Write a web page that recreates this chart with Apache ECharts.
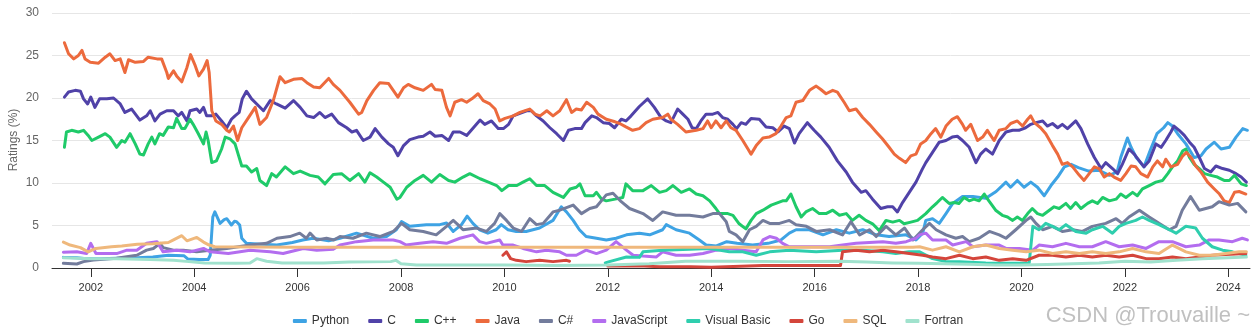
<!DOCTYPE html>
<html>
<head>
<meta charset="utf-8">
<script src="https://cdn.jsdelivr.net/npm/echarts@6/dist/echarts.min.js"></script>
<style>html,body{margin:0;padding:0;background:#fff;}#c{width:1256px;height:336px;}</style>
</head>
<body>
<div id="c"></div>
<script>
const yearTicks = [2002,2004,2006,2008,2010,2012,2014,2016,2018,2020,2022,2024];
const seriesNames = ['Python','C','C++','Java','C#','JavaScript','Visual Basic','Go','SQL','Fortran'];
const seriesColors = ['#3ea3e4','#5042a8','#1fca69','#ec6a3d','#737c9c','#b36def','#2fceae','#d4453b','#efb87c','#a0e2cd'];

const python = [[2001.47,1.25],[2001.73,1.2],[2001.92,1.1],[2002.2,1.1],[2002.5,1.15],[2002.9,1.2],[2003.2,1.3],[2003.5,1.5],[2003.8,1.45],[2003.88,1.05],[2004.1,1.0],[2004.27,1.0],[2004.31,1.5],[2004.36,6.0],[2004.40,6.6],[2004.50,5.25],[2004.58,5.7],[2004.63,5.8],[2004.72,5.06],[2004.78,5.5],[2004.82,5.45],[2004.88,5.06],[2004.92,3.5],[2005.01,2.9],[2005.3,2.8],[2005.6,2.7],[2005.9,3.0],[2006.1,3.3],[2006.3,3.5],[2006.6,3.2],[2006.82,3.5],[2007.14,4.1],[2007.46,3.5],[2007.72,3.7],[2007.91,4.5],[2008.01,5.45],[2008.17,4.9],[2008.49,5.1],[2008.75,5.1],[2008.88,5.3],[2009.01,4.3],[2009.17,5.1],[2009.28,6.1],[2009.39,5.25],[2009.52,4.5],[2009.68,4.1],[2009.84,4.5],[2009.94,5.1],[2010.07,4.5],[2010.23,4.3],[2010.42,4.3],[2010.68,4.7],[2010.94,5.6],[2011.10,7.2],[2011.20,6.6],[2011.33,5.6],[2011.45,4.5],[2011.58,3.7],[2011.78,3.5],[2011.97,3.3],[2012.16,3.5],[2012.36,3.9],[2012.61,4.1],[2012.81,3.9],[2013.06,4.5],[2013.13,5.1],[2013.32,4.5],[2013.58,4.1],[2013.77,3.3],[2013.90,2.7],[2014.1,2.6],[2014.3,3.1],[2014.5,2.9],[2014.8,2.7],[2015.1,2.9],[2015.35,3.3],[2015.51,4.1],[2015.64,4.5],[2015.9,4.5],[2016.16,3.9],[2016.42,4.5],[2016.67,4.1],[2016.93,4.5],[2017.19,3.9],[2017.44,3.7],[2017.77,3.9],[2017.96,3.3],[2018.09,4.1],[2018.15,5.6],[2018.28,5.8],[2018.41,5.25],[2018.54,6.4],[2018.67,7.6],[2018.86,8.4],[2019.06,8.4],[2019.31,8.2],[2019.51,9.0],[2019.70,10.1],[2019.79,9.5],[2019.92,10.3],[2020.05,9.5],[2020.18,10.1],[2020.31,9.5],[2020.44,8.5],[2020.57,9.7],[2020.70,10.7],[2020.83,11.9],[2020.96,12.2],[2021.1,11.8],[2021.3,11.4],[2021.5,11.5],[2021.7,10.9],[2021.85,11.3],[2021.92,13.0],[2022.05,15.3],[2022.12,14.2],[2022.22,13.0],[2022.37,11.9],[2022.5,14.0],[2022.62,15.8],[2022.75,16.5],[2022.83,17.1],[2022.92,16.7],[2023.02,15.8],[2023.18,14.6],[2023.34,13.0],[2023.47,13.2],[2023.57,14.0],[2023.73,14.8],[2023.86,14.0],[2024.02,14.2],[2024.15,15.4],[2024.28,16.4],[2024.37,16.2]];

const cLang = [[2001.49,20.1],[2001.57,20.7],[2001.70,20.9],[2001.80,20.8],[2001.86,19.9],[2001.94,19.3],[2002.00,20.1],[2002.08,18.9],[2002.17,19.9],[2002.31,19.9],[2002.44,20.0],[2002.57,19.3],[2002.66,18.3],[2002.79,18.7],[2002.95,17.4],[2003.08,17.9],[2003.15,18.5],[2003.24,17.3],[2003.34,18.1],[2003.47,18.5],[2003.60,18.5],[2003.69,17.9],[2003.76,18.3],[2003.86,17.3],[2003.92,18.5],[2004.05,18.7],[2004.11,18.3],[2004.18,18.9],[2004.24,17.9],[2004.34,17.9],[2004.42,18.1],[2004.53,17.3],[2004.63,16.5],[2004.72,17.5],[2004.79,17.9],[2004.87,18.3],[2004.93,19.9],[2005.01,20.8],[2005.11,19.9],[2005.21,19.3],[2005.34,18.5],[2005.47,19.7],[2005.59,19.3],[2005.76,18.8],[2005.92,19.7],[2006.05,18.9],[2006.18,17.9],[2006.31,17.7],[2006.43,18.3],[2006.53,17.7],[2006.66,18.1],[2006.79,17.1],[2006.95,16.5],[2007.05,16.0],[2007.14,16.2],[2007.27,15.0],[2007.40,15.4],[2007.50,16.4],[2007.63,15.4],[2007.76,14.6],[2007.85,14.2],[2007.94,13.2],[2008.05,14.4],[2008.17,15.1],[2008.33,15.4],[2008.43,15.5],[2008.56,16.0],[2008.66,15.5],[2008.79,15.6],[2008.92,15.0],[2009.01,16.0],[2009.14,16.0],[2009.27,15.6],[2009.40,16.5],[2009.53,17.4],[2009.62,16.9],[2009.75,17.3],[2009.88,16.4],[2009.98,16.4],[2010.08,16.9],[2010.17,17.9],[2010.30,18.2],[2010.43,18.5],[2010.52,18.5],[2010.62,17.9],[2010.75,17.3],[2010.88,16.5],[2011.01,15.8],[2011.14,15.0],[2011.24,16.2],[2011.36,16.4],[2011.49,16.4],[2011.56,17.1],[2011.69,17.9],[2011.78,17.7],[2011.91,17.1],[2012.03,17.0],[2012.13,16.5],[2012.26,17.5],[2012.35,17.3],[2012.45,17.9],[2012.61,19.0],[2012.77,19.9],[2012.90,18.9],[2013.03,17.7],[2013.13,17.3],[2013.22,17.1],[2013.35,18.7],[2013.45,18.1],[2013.55,17.5],[2013.63,16.5],[2013.71,16.4],[2013.80,17.3],[2013.90,18.1],[2014.03,18.1],[2014.13,18.3],[2014.22,17.7],[2014.32,17.5],[2014.42,16.9],[2014.49,16.4],[2014.58,17.1],[2014.67,16.9],[2014.77,17.6],[2014.93,17.5],[2015.06,16.6],[2015.19,16.5],[2015.29,16.0],[2015.41,16.7],[2015.51,16.4],[2015.61,14.7],[2015.70,15.8],[2015.86,17.1],[2015.99,16.2],[2016.12,15.4],[2016.28,14.2],[2016.44,12.6],[2016.61,11.3],[2016.73,10.1],[2016.90,8.9],[2016.99,9.1],[2017.12,8.1],[2017.28,7.0],[2017.41,7.2],[2017.51,7.2],[2017.60,6.6],[2017.70,7.7],[2017.83,8.9],[2017.96,10.1],[2018.08,11.6],[2018.15,12.4],[2018.28,13.6],[2018.41,14.8],[2018.54,15.0],[2018.66,15.4],[2018.76,15.5],[2018.86,15.0],[2018.99,14.2],[2019.12,12.4],[2019.21,13.4],[2019.31,14.0],[2019.44,13.4],[2019.57,15.0],[2019.70,16.0],[2019.83,16.2],[2019.95,16.2],[2020.08,16.5],[2020.18,16.9],[2020.28,17.1],[2020.41,17.3],[2020.50,16.7],[2020.60,17.0],[2020.70,16.5],[2020.79,16.9],[2020.89,16.4],[2021.05,17.3],[2021.15,16.4],[2021.28,14.6],[2021.41,13.0],[2021.54,11.7],[2021.63,12.4],[2021.76,11.7],[2021.86,11.1],[2021.95,12.2],[2022.08,14.0],[2022.18,13.4],[2022.28,12.6],[2022.37,11.9],[2022.47,12.6],[2022.60,14.6],[2022.70,14.2],[2022.79,15.0],[2022.89,16.0],[2022.95,16.7],[2023.05,16.2],[2023.15,15.6],[2023.25,14.8],[2023.34,14.2],[2023.44,13.0],[2023.54,11.7],[2023.66,11.3],[2023.76,12.0],[2023.89,11.7],[2024.02,11.5],[2024.15,11.1],[2024.25,10.7],[2024.35,10.1]];

const cpp = [[2001.49,14.2],[2001.53,16.0],[2001.63,16.2],[2001.76,16.0],[2001.86,16.2],[2001.95,15.6],[2002.02,15.0],[2002.15,15.4],[2002.28,15.8],[2002.37,15.4],[2002.50,14.2],[2002.60,15.0],[2002.66,14.8],[2002.76,15.8],[2002.86,14.6],[2002.95,13.4],[2003.02,13.3],[2003.11,14.6],[2003.18,15.4],[2003.24,14.6],[2003.33,15.8],[2003.40,15.6],[2003.50,16.6],[2003.60,16.5],[2003.66,17.6],[2003.76,16.4],[2003.82,16.4],[2003.92,17.5],[2003.98,16.9],[2004.08,15.8],[2004.18,14.6],[2004.23,16.0],[2004.27,15.0],[2004.34,12.4],[2004.43,12.6],[2004.53,14.0],[2004.60,15.4],[2004.69,15.2],[2004.79,14.6],[2004.85,13.4],[2004.92,12.0],[2005.01,12.0],[2005.11,11.3],[2005.21,11.7],[2005.27,10.3],[2005.40,9.7],[2005.50,11.1],[2005.59,10.7],[2005.76,11.9],[2005.92,11.1],[2006.05,11.4],[2006.24,10.9],[2006.40,10.7],[2006.53,9.9],[2006.69,11.0],[2006.85,11.1],[2007.01,10.3],[2007.18,11.1],[2007.30,10.1],[2007.40,11.2],[2007.53,10.7],[2007.66,10.1],[2007.79,9.5],[2007.92,8.1],[2007.98,8.3],[2008.11,9.5],[2008.27,10.3],[2008.43,10.9],[2008.59,10.1],[2008.75,11.0],[2008.92,10.3],[2009.04,10.1],[2009.20,10.7],[2009.33,11.1],[2009.53,10.5],[2009.69,10.1],[2009.85,9.7],[2009.95,9.1],[2010.08,9.7],[2010.24,9.7],[2010.36,10.1],[2010.49,10.5],[2010.62,9.7],[2010.78,9.7],[2010.94,8.9],[2011.14,8.3],[2011.27,9.3],[2011.39,9.5],[2011.46,9.9],[2011.56,8.5],[2011.72,8.5],[2011.78,8.9],[2011.88,8.1],[2011.97,7.9],[2012.14,8.1],[2012.29,8.3],[2012.35,9.9],[2012.48,9.1],[2012.68,9.1],[2012.84,9.7],[2013.00,8.9],[2013.13,9.1],[2013.26,9.7],[2013.42,8.9],[2013.58,9.3],[2013.71,8.7],[2013.84,8.5],[2013.97,7.9],[2014.09,7.0],[2014.16,6.4],[2014.32,6.4],[2014.42,6.2],[2014.54,5.2],[2014.67,4.6],[2014.77,5.6],[2014.87,6.4],[2015.00,6.8],[2015.16,7.4],[2015.29,7.7],[2015.38,7.9],[2015.45,7.9],[2015.54,8.7],[2015.64,7.2],[2015.74,6.0],[2015.83,6.6],[2015.96,7.0],[2016.09,6.4],[2016.22,6.4],[2016.35,6.8],[2016.48,6.2],[2016.61,6.4],[2016.73,5.6],[2016.86,6.2],[2016.99,5.6],[2017.12,5.2],[2017.25,4.4],[2017.38,5.6],[2017.51,5.4],[2017.64,5.6],[2017.73,5.2],[2017.86,5.4],[2017.99,5.6],[2018.15,6.4],[2018.28,7.2],[2018.37,7.7],[2018.47,8.3],[2018.60,7.6],[2018.70,7.7],[2018.79,7.6],[2018.89,8.3],[2018.99,7.9],[2019.08,8.1],[2019.18,7.9],[2019.28,8.7],[2019.37,7.9],[2019.50,6.8],[2019.63,6.2],[2019.73,6.0],[2019.83,5.6],[2019.92,6.0],[2020.02,5.6],[2020.12,6.4],[2020.21,7.0],[2020.31,6.4],[2020.41,6.2],[2020.54,6.8],[2020.63,7.2],[2020.73,7.0],[2020.86,7.6],[2020.95,7.0],[2021.05,7.7],[2021.15,7.0],[2021.28,7.6],[2021.37,7.9],[2021.47,7.6],[2021.57,8.3],[2021.70,7.9],[2021.83,8.1],[2021.92,8.7],[2022.02,8.3],[2022.15,8.9],[2022.24,8.5],[2022.34,9.3],[2022.47,9.7],[2022.60,10.1],[2022.73,10.3],[2022.83,11.1],[2022.92,11.9],[2023.02,12.6],[2023.12,13.8],[2023.18,14.0],[2023.25,13.0],[2023.34,12.2],[2023.44,11.7],[2023.54,11.1],[2023.66,10.9],[2023.79,10.7],[2023.92,10.3],[2024.02,10.3],[2024.12,10.9],[2024.25,9.9],[2024.35,9.7]];

const java = [[2001.49,26.5],[2001.57,25.2],[2001.67,24.6],[2001.76,25.0],[2001.83,25.6],[2001.89,24.6],[2001.99,24.2],[2002.15,24.1],[2002.28,24.8],[2002.37,25.2],[2002.47,24.4],[2002.57,24.6],[2002.66,23.0],[2002.73,24.5],[2002.86,24.2],[2003.02,24.3],[2003.11,24.8],[2003.28,24.6],[2003.37,24.6],[2003.47,23.0],[2003.50,22.3],[2003.60,23.2],[2003.66,22.6],[2003.76,21.9],[2003.86,23.6],[2003.93,25.1],[2004.02,23.8],[2004.09,22.6],[2004.18,23.4],[2004.25,24.4],[2004.29,23.0],[2004.34,18.5],[2004.42,17.3],[2004.53,16.9],[2004.63,16.2],[2004.68,16.0],[2004.76,16.7],[2004.84,15.0],[2004.92,16.5],[2005.05,17.7],[2005.18,18.9],[2005.27,16.9],[2005.40,17.7],[2005.53,19.7],[2005.66,22.5],[2005.76,21.8],[2005.92,22.2],[2006.08,22.3],[2006.18,21.8],[2006.31,21.3],[2006.43,21.2],[2006.60,22.3],[2006.69,21.6],[2006.82,20.9],[2007.01,19.5],[2007.18,18.1],[2007.24,18.3],[2007.34,19.7],[2007.47,20.9],[2007.59,21.8],[2007.76,21.7],[2007.85,20.9],[2007.94,20.1],[2008.05,21.2],[2008.14,21.6],[2008.27,21.2],[2008.43,20.9],[2008.59,21.6],[2008.66,21.0],[2008.79,20.9],[2008.88,18.9],[2008.95,17.9],[2009.04,19.5],[2009.17,19.8],[2009.27,19.5],[2009.37,19.9],[2009.49,20.5],[2009.59,19.7],[2009.72,19.3],[2009.82,18.7],[2009.91,17.3],[2010.01,17.6],[2010.17,17.9],[2010.30,18.3],[2010.49,18.7],[2010.59,18.1],[2010.69,17.9],[2010.82,18.5],[2010.94,17.9],[2011.07,18.5],[2011.20,19.8],[2011.30,18.3],[2011.39,18.7],[2011.49,18.6],[2011.59,19.5],[2011.72,18.9],[2011.81,18.1],[2011.97,17.5],[2012.14,17.2],[2012.23,17.0],[2012.35,16.6],[2012.48,16.2],[2012.61,16.4],[2012.74,17.1],[2012.87,17.5],[2013.06,17.7],[2013.16,18.1],[2013.22,17.5],[2013.35,16.9],[2013.51,16.0],[2013.71,16.2],[2013.84,16.4],[2013.93,17.3],[2014.00,16.5],[2014.09,17.3],[2014.19,16.5],[2014.29,17.3],[2014.38,16.5],[2014.48,16.2],[2014.61,15.0],[2014.71,14.0],[2014.77,13.4],[2014.87,14.4],[2015.00,15.3],[2015.12,15.4],[2015.25,15.8],[2015.35,16.7],[2015.45,17.7],[2015.54,17.9],[2015.64,19.5],[2015.77,19.7],[2015.90,20.9],[2016.03,21.4],[2016.12,21.0],[2016.22,20.5],[2016.35,20.9],[2016.44,20.7],[2016.57,19.5],[2016.67,18.5],[2016.80,18.7],[2016.93,17.7],[2017.06,16.9],[2017.19,16.0],[2017.31,15.2],[2017.44,14.2],[2017.54,13.4],[2017.64,12.9],[2017.76,12.4],[2017.86,13.2],[2017.96,13.4],[2018.05,14.6],[2018.15,15.0],[2018.25,15.8],[2018.34,16.4],[2018.44,15.4],[2018.54,16.7],[2018.66,17.5],[2018.76,17.8],[2018.86,16.9],[2018.92,16.2],[2019.02,16.9],[2019.15,15.0],[2019.25,15.4],[2019.34,16.2],[2019.47,15.0],[2019.57,16.2],[2019.70,16.4],[2019.79,17.0],[2019.92,17.3],[2020.02,16.7],[2020.12,17.5],[2020.18,17.9],[2020.25,17.1],[2020.37,16.5],[2020.47,15.8],[2020.60,14.4],[2020.70,13.4],[2020.79,12.2],[2020.89,12.4],[2020.99,11.9],[2021.12,10.9],[2021.21,10.3],[2021.31,11.1],[2021.41,11.9],[2021.50,11.7],[2021.60,10.7],[2021.70,11.1],[2021.79,10.7],[2021.92,10.3],[2022.02,11.1],[2022.12,12.0],[2022.21,11.9],[2022.31,11.1],[2022.44,10.7],[2022.54,11.9],[2022.63,12.6],[2022.73,11.9],[2022.79,12.8],[2022.89,11.9],[2023.02,12.2],[2023.12,13.2],[2023.19,13.6],[2023.28,13.0],[2023.37,12.0],[2023.47,11.3],[2023.60,10.1],[2023.73,9.3],[2023.83,8.7],[2023.92,7.9],[2024.02,7.7],[2024.12,8.9],[2024.21,9.0],[2024.34,8.7]];

const csharp = [[2001.47,0.55],[2001.73,0.47],[2001.86,0.75],[2002.05,0.94],[2002.5,1.14],[2002.89,1.5],[2003.08,2.1],[2003.21,2.3],[2003.34,2.9],[2003.40,2.4],[2003.6,2.1],[2003.79,2.1],[2004.05,1.9],[2004.31,2.1],[2004.63,2.3],[2005.08,2.7],[2005.40,2.9],[2005.60,3.5],[2005.85,3.7],[2006.04,4.1],[2006.17,3.5],[2006.24,4.1],[2006.37,3.3],[2006.56,3.5],[2006.70,3.3],[2006.82,3.7],[2007.07,3.5],[2007.33,4.1],[2007.59,3.7],[2007.85,4.3],[2008.01,5.25],[2008.17,4.5],[2008.43,4.3],[2008.68,3.9],[2008.88,4.9],[2009.01,5.6],[2009.10,5.1],[2009.2,4.5],[2009.46,4.7],[2009.65,4.3],[2009.81,5.25],[2009.91,6.4],[2010.04,5.6],[2010.17,4.7],[2010.33,4.3],[2010.49,5.8],[2010.62,5.1],[2010.75,5.25],[2010.94,6.6],[2011.07,6.8],[2011.33,7.4],[2011.49,6.4],[2011.65,7.0],[2011.78,7.2],[2011.97,8.6],[2012.10,8.8],[2012.26,7.8],[2012.42,7.0],[2012.68,6.4],[2012.87,5.6],[2013.06,6.6],[2013.32,6.2],[2013.58,6.2],[2013.84,6.0],[2014.03,6.4],[2014.16,6.4],[2014.29,5.45],[2014.35,4.3],[2014.48,3.9],[2014.61,3.1],[2014.74,4.5],[2014.87,4.9],[2015.0,5.6],[2015.13,5.25],[2015.32,5.25],[2015.51,5.6],[2015.64,5.1],[2015.84,4.9],[2016.03,4.3],[2016.29,4.5],[2016.54,3.9],[2016.70,5.45],[2016.87,3.9],[2017.06,4.5],[2017.19,3.7],[2017.38,4.9],[2017.57,3.9],[2017.74,4.7],[2017.90,3.3],[2018.09,4.5],[2018.22,5.25],[2018.35,4.5],[2018.54,3.9],[2018.73,3.5],[2018.86,3.7],[2018.99,3.1],[2019.18,3.5],[2019.38,4.3],[2019.57,3.9],[2019.70,3.5],[2019.89,4.5],[2020.09,5.6],[2020.18,6.0],[2020.28,5.25],[2020.41,4.5],[2020.60,4.9],[2020.79,4.3],[2020.99,4.5],[2021.18,4.3],[2021.37,4.9],[2021.63,5.25],[2021.83,5.8],[2021.95,5.25],[2022.08,6.0],[2022.28,6.8],[2022.47,6.0],[2022.66,5.25],[2022.86,4.5],[2022.99,4.9],[2023.11,6.8],[2023.27,8.4],[2023.44,6.8],[2023.69,7.2],[2023.82,7.8],[2024.02,7.4],[2024.18,7.6],[2024.34,6.6]];

const javascript = [[2001.47,1.85],[2001.73,1.9],[2001.92,1.7],[2002.0,2.9],[2002.1,1.7],[2002.5,1.7],[2002.70,2.1],[2002.89,2.1],[2003.08,2.9],[2003.28,3.1],[2003.40,1.9],[2003.66,2.1],[2003.92,1.9],[2004.18,2.3],[2004.31,1.9],[2004.66,1.7],[2005.08,2.1],[2005.47,1.9],[2005.72,1.7],[2006.11,2.3],[2006.37,2.1],[2006.69,2.2],[2006.82,2.7],[2007.14,3.1],[2007.46,3.3],[2007.85,3.3],[2007.98,3.1],[2008.10,2.7],[2008.36,2.9],[2008.62,3.1],[2008.88,2.9],[2009.14,3.5],[2009.39,3.9],[2009.52,3.1],[2009.65,2.9],[2009.91,3.3],[2009.97,2.7],[2010.17,2.7],[2010.36,2.3],[2010.62,1.9],[2010.81,2.1],[2011.07,1.9],[2011.2,1.5],[2011.39,1.5],[2011.58,2.1],[2011.78,1.7],[2011.97,2.1],[2012.16,3.1],[2012.36,2.1],[2012.49,1.5],[2012.68,1.4],[2012.94,1.3],[2013.06,1.9],[2013.32,1.5],[2013.58,1.5],[2013.84,1.7],[2014.1,2.1],[2014.35,2.3],[2014.61,2.1],[2014.87,1.9],[2015.0,3.3],[2015.13,3.7],[2015.26,3.5],[2015.38,2.9],[2015.51,2.5],[2015.77,2.5],[2016.03,2.5],[2016.29,2.5],[2016.54,2.7],[2016.80,2.9],[2017.06,3.0],[2017.32,3.1],[2017.57,2.9],[2017.77,3.1],[2017.96,3.5],[2018.03,3.9],[2018.15,4.1],[2018.28,3.3],[2018.54,3.3],[2018.67,2.7],[2018.93,3.1],[2019.06,2.5],[2019.31,2.7],[2019.57,2.7],[2019.70,2.3],[2019.96,2.3],[2020.22,2.1],[2020.34,2.7],[2020.60,2.5],[2020.86,2.9],[2021.12,2.5],[2021.37,2.5],[2021.63,3.1],[2021.89,2.5],[2022.15,2.7],[2022.41,2.3],[2022.66,3.1],[2022.92,3.1],[2023.18,2.5],[2023.44,2.7],[2023.63,3.3],[2023.82,3.3],[2024.08,3.1],[2024.27,3.5],[2024.37,3.3]];

const visualBasic = [[2011.95,0.6],[2012.03,0.75],[2012.36,1.3],[2012.61,1.25],[2012.68,1.9],[2013.06,2.1],[2013.58,2.2],[2013.97,2.3],[2014.35,1.9],[2014.61,1.9],[2014.87,1.5],[2015.13,1.9],[2015.51,2.1],[2016.03,1.9],[2016.54,2.1],[2016.93,2.1],[2017.32,1.9],[2017.57,1.7],[2017.83,1.9],[2018.03,1.9],[2018.28,1.1],[2018.54,0.75],[2018.80,0.75],[2019.31,0.6],[2019.83,0.55],[2020.15,0.6],[2020.22,4.9],[2020.34,4.5],[2020.47,5.25],[2020.60,4.9],[2020.73,4.5],[2020.86,5.1],[2021.05,4.3],[2021.25,4.1],[2021.37,4.5],[2021.57,4.9],[2021.76,4.1],[2021.89,4.9],[2022.02,5.25],[2022.21,5.6],[2022.34,6.0],[2022.47,5.6],[2022.66,5.1],[2022.86,4.5],[2022.99,4.1],[2023.18,4.9],[2023.37,4.7],[2023.50,3.5],[2023.69,2.5],[2023.89,2.1],[2024.08,1.9],[2024.34,1.5]];

const goLang = [[2009.97,1.5],[2010.04,1.9],[2010.12,1.1],[2010.23,0.9],[2010.42,0.75],[2010.68,0.9],[2010.94,0.75],[2011.2,0.9],[2011.26,0.8],[2011.6,null],[2012.0,0.25],[2012.6,0.25],[2013.0,0.15],[2013.6,0.15],[2014.0,0.1],[2015.0,0.3],[2016.0,0.3],[2016.5,0.3],[2016.54,1.9],[2016.80,2.1],[2017.06,1.9],[2017.32,2.1],[2017.57,1.9],[2017.83,1.7],[2018.09,1.5],[2018.28,1.3],[2018.54,1.1],[2018.80,1.5],[2019.06,1.1],[2019.31,1.3],[2019.57,0.9],[2019.83,1.1],[2020.09,0.9],[2020.34,1.5],[2020.60,1.5],[2020.86,1.3],[2021.12,1.5],[2021.37,1.3],[2021.63,1.5],[2021.89,1.3],[2022.15,1.5],[2022.41,1.1],[2022.66,1.1],[2022.92,1.3],[2023.18,1.1],[2023.44,1.3],[2023.69,1.5],[2023.95,1.6],[2024.34,1.7]];

const sql = [[2001.47,3.05],[2001.6,2.7],[2001.8,2.4],[2001.95,1.9],[2002.1,2.3],[2002.4,2.5],[2002.6,2.6],[2002.9,2.8],[2003.2,2.85],[2003.5,3.0],[2003.6,3.3],[2003.76,3.8],[2003.86,3.2],[2004.05,3.6],[2004.18,3.05],[2004.29,2.7],[2004.4,2.5],[2006,2.45],[2008,2.45],[2010,2.45],[2012,2.45],[2014,2.45],[2016,2.45],[2017.9,2.45],[2018.03,2.5],[2018.28,2.1],[2018.54,2.5],[2018.80,1.9],[2019.06,2.5],[2019.31,2.7],[2019.57,2.3],[2019.83,2.1],[2020.09,1.9],[2020.34,2.1],[2020.60,1.7],[2020.86,1.9],[2021.12,1.7],[2021.37,1.9],[2021.63,1.7],[2021.89,1.9],[2022.15,2.3],[2022.41,1.9],[2022.66,1.7],[2022.92,2.7],[2023.18,1.9],[2023.44,1.5],[2023.69,1.5],[2023.95,1.7],[2024.21,1.9],[2024.35,1.9]];

const fortran = [[2001.47,1.2],[2002.0,1.1],[2002.5,1.1],[2003.15,1.0],[2003.6,0.9],[2003.9,0.75],[2004.2,0.6],[2004.8,0.55],[2005.08,0.6],[2005.21,1.1],[2005.4,0.8],[2005.7,0.6],[2006.5,0.6],[2007.0,0.7],[2007.8,0.75],[2007.9,0.9],[2008.0,0.5],[2008.3,0.35],[2009,0.35],[2010,0.35],[2011,0.3],[2012,0.35],[2012.8,0.5],[2013.5,0.8],[2014.5,0.8],[2015.5,0.75],[2016.5,0.8],[2017.0,0.7],[2017.5,0.6],[2018.0,0.55],[2018.5,0.5],[2019.0,0.45],[2019.5,0.35],[2020.0,0.35],[2020.5,0.4],[2021.0,0.5],[2021.5,0.6],[2022.0,0.8],[2022.5,0.7],[2023.0,0.9],[2023.5,1.1],[2024.0,1.2],[2024.35,1.3]];

const seriesData = [python, cLang, cpp, java, csharp, javascript, visualBasic, goLang, sql, fortran];

const chart = echarts.init(document.getElementById('c'), null, {renderer: 'canvas'});
const font = 'Liberation Sans, Arial, Helvetica, sans-serif';
chart.setOption({
  animation: false,
  backgroundColor: '#ffffff',
  color: seriesColors,
  textStyle: {fontFamily: font},
  grid: {left: 52, right: 6, top: 13, bottom: 68, outerBoundsMode: 'none', containLabel: false},
  xAxis: {
    type: 'value', min: 2001.25, max: 2024.42,
    axisLine: {lineStyle: {color: '#333', width: 1}},
    axisTick: {customValues: yearTicks, length: 9, lineStyle: {color: '#333'}},
    axisLabel: {customValues: yearTicks, color: '#333', fontSize: 11, margin: 14, formatter: v => String(v)},
    splitLine: {show: false}
  },
  yAxis: {
    type: 'value', min: 0, max: 30, interval: 5,
    axisLine: {show: false}, axisTick: {show: false},
    axisLabel: {color: '#666', fontSize: 12, margin: 13},
    splitLine: {lineStyle: {color: '#e6e6e6', width: 1}}
  },
  legend: {
    bottom: 4, left: 'center', itemGap: 19, itemWidth: 14, itemHeight: 4, icon: 'roundRect',
    textStyle: {color: '#333', fontSize: 12}
  },
  graphic: [{
    type: 'text', x: 14, y: 140, rotation: Math.PI / 2,
    style: {text: 'Ratings (%)', fill: '#666', font: '12px ' + font, align: 'center', verticalAlign: 'middle'}
  }, {
    type: 'text', right: 6, bottom: 9,
    style: {text: 'CSDN @Trouvaille ~', fill: 'rgba(165,165,165,0.7)', font: '22px ' + font}
  }],
  series: seriesNames.map((n, i) => ({
    name: n, type: 'line', data: seriesData[i], showSymbol: false, symbol: 'none',
    lineStyle: {width: 3, join: 'round', cap: 'round'}, connectNulls: false
  }))
});
</script>
</body>
</html>
